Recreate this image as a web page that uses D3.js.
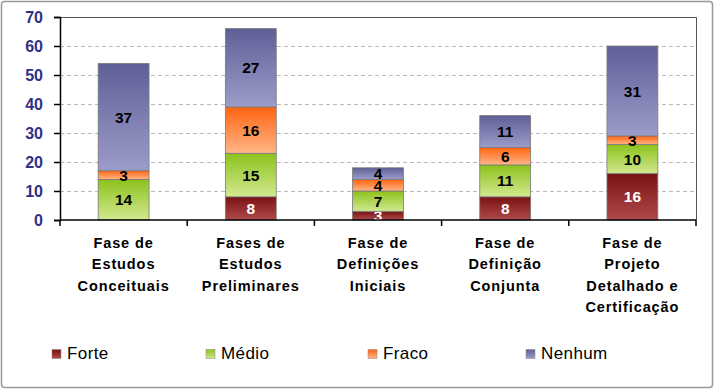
<!DOCTYPE html>
<html><head><meta charset="utf-8">
<script src="https://cdn.jsdelivr.net/npm/d3@7"></script>
<style>body{margin:0;background:#fff}svg{display:block}</style>
</head><body><svg id="c" width="715" height="391"></svg>
<script>
const categories = [
  ["Fase de","Estudos","Conceituais"],
  ["Fases de","Estudos","Preliminares"],
  ["Fase de","Definições","Iniciais"],
  ["Fase de","Definição","Conjunta"],
  ["Fase de","Projeto","Detalhado e","Certificação"]
];
const seriesNames = ["Forte","Médio","Fraco","Nenhum"];
const forte  = [0, 8, 3, 8, 16];
const medio  = [14, 15, 7, 11, 10];
const fraco  = [3, 16, 4, 6, 3];
const nenhum = [37, 27, 4, 11, 31];
const yTicks = [0,10,20,30,40,50,60,70];
const colors = [["#7a1212","#b04a4a"],["#8cc21c","#d2e890"],["#ff6410","#ffb688"],["#5f5f97","#9c9cca"]];
const labelColors = ["#fff","#000","#000","#000"];
const FONT = "'Liberation Sans', Arial, sans-serif";

const svg = d3.select("#c");
const L=60, R=696, T=17, B=220;
const defs = svg.append("defs");
colors.forEach((c,i)=>{
  const g = defs.append("linearGradient").attr("id","g"+i).attr("x1",0).attr("y1",0).attr("x2",0).attr("y2",1);
  g.append("stop").attr("offset","0%").attr("stop-color",c[0]);
  g.append("stop").attr("offset","100%").attr("stop-color",c[1]);
});
svg.append("rect").attr("x",1.5).attr("y",1.5).attr("width",711).attr("height",386).attr("rx",3)
  .attr("fill","#fff").attr("stroke","#999").attr("stroke-width",1.5);

const x = d3.scaleBand().domain(d3.range(categories.length)).range([L,R]).paddingInner(0.6).paddingOuter(0.3);
const y = d3.scaleLinear().domain([0,70]).range([B,T]);

svg.append("g").selectAll("line").data(yTicks.filter(d=>d>0 && d<70)).join("line")
  .attr("x1",L).attr("x2",R).attr("y1",d=>Math.round(y(d))+0.5).attr("y2",d=>Math.round(y(d))+0.5)
  .attr("stroke","#b8b8b8").attr("stroke-dasharray","4,3");
svg.append("path").attr("d",`M${L},${y(70)+0.5}H${R+0.5}V${B}`).attr("fill","none").attr("stroke","#555").attr("stroke-width",1);

const data = [forte, medio, fraco, nenhum];
const stack = d3.stack().keys([0,1,2,3]).value((d,k)=>data[k][d]);
const stacked = stack(d3.range(categories.length));
stacked.forEach((s,k)=>{
  const g = svg.append("g");
  const segs = s.filter(d=>d[1]-d[0]>0);
  g.selectAll("rect").data(segs).join("rect")
    .attr("x",d=>x(d.data)).attr("width",x.bandwidth())
    .attr("y",d=>y(d[1])).attr("height",d=>y(d[0])-y(d[1]))
    .attr("fill",`url(#g${k})`).attr("stroke","#7a7a7a").attr("stroke-width",0.8);
  g.selectAll("text").data(segs).join("text")
    .attr("x",d=>x(d.data)+x.bandwidth()/2).attr("y",d=>(y(d[0])+y(d[1]))/2)
    .attr("dy","0.36em").attr("text-anchor","middle")
    .attr("font-family",FONT).attr("font-weight","bold").attr("font-size",15.5)
    .attr("fill",labelColors[k]).text(d=>d[1]-d[0]);
});

const ya = svg.append("g").attr("transform",`translate(${L},0)`)
  .call(d3.axisLeft(y).tickValues(yTicks).tickSize(6).tickPadding(11));
ya.select(".domain").attr("stroke","#000").attr("stroke-width",1.5);
ya.selectAll(".tick line").attr("stroke","#000").attr("stroke-width",1.5);
ya.selectAll("text").attr("font-family",FONT).attr("font-weight","bold")
  .attr("font-size",16).attr("fill","#303085");

const xa = svg.append("g").attr("transform",`translate(0,${B})`);
xa.append("line").attr("x1",L).attr("x2",R).attr("stroke","#000").attr("stroke-width",1.5);
const step = (R-L)/categories.length;
xa.selectAll(".tk").data(d3.range(categories.length+1)).join("line")
  .attr("x1",d=>L+d*step).attr("x2",d=>L+d*step).attr("y1",0).attr("y2",6)
  .attr("stroke","#000").attr("stroke-width",1.5);
categories.forEach((lines,i)=>{
  const t = svg.append("text").attr("text-anchor","middle")
    .attr("font-family",FONT).attr("font-weight","bold").attr("font-size",14.5)
    .attr("letter-spacing","0.9px").attr("fill","#000");
  lines.forEach((ln,j)=>{
    t.append("tspan").attr("x",x(i)+x.bandwidth()/2).attr("y",248+j*21.3).text(ln);
  });
});

const legX = [52,206,368,526];
seriesNames.forEach((n,i)=>{
  svg.append("rect").attr("x",legX[i]).attr("y",349.5).attr("width",9).attr("height",9)
    .attr("fill",`url(#g${i})`).attr("stroke","#888").attr("stroke-width",0.5);
  svg.append("text").attr("x",legX[i]+15).attr("y",358.5)
    .attr("font-family",FONT).attr("font-size",17).attr("letter-spacing","0.4px").attr("fill","#000").text(n);
});
</script></body></html>
